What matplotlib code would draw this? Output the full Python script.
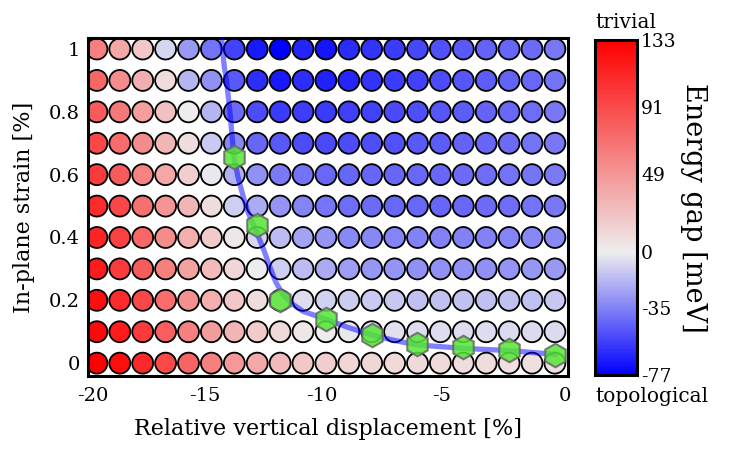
import numpy as np
import matplotlib
matplotlib.use('Agg')
import matplotlib.pyplot as plt
from matplotlib.colors import LinearSegmentedColormap, Normalize

plt.rcParams['font.family'] = 'DejaVu Serif'
plt.rcParams['axes.unicode_minus'] = False

# grid: 21 displacement columns, 11 strain rows
n_cols = 21
strain = [0.0, 0.1, 0.2, 0.3, 0.4, 0.5, 0.6, 0.7, 0.8, 0.9, 1.0]

# energy gap [meV], one list per strain row (bottom to top), columns left to right
gap_rows = [
    [133, 125, 110, 92, 78, 62, 48, 38, 28, 22, 18, 14, 13, 12, 12, 11, 10, 10, 9, 8, 7],
    [128, 118, 100, 80, 62, 46, 32, 20, 12, 5, 1, -2, -3, -4, -5, -5, -5, -5, -6, -6, -6],
    [124, 108, 92, 72, 52, 36, 22, 10, 0, -5, -9, -11, -12, -13, -14, -14, -14, -14, -14, -14, -13],
    [118, 100, 82, 62, 42, 28, 14, 0, -10, -16, -22, -26, -28, -29, -30, -30, -30, -30, -29, -28, -27],
    [112, 96, 76, 55, 36, 20, 4, -8, -16, -24, -29, -32, -33, -34, -35, -35, -35, -35, -34, -33, -32],
    [108, 92, 70, 50, 32, 10, -10, -22, -29, -34, -39, -41, -42, -43, -43, -44, -43, -42, -41, -40, -38],
    [100, 82, 60, 40, 18, -2, -20, -30, -37, -40, -43, -44, -44, -44, -43, -43, -42, -41, -40, -39, -37],
    [92, 72, 55, 32, 10, -12, -32, -44, -48, -52, -53, -52, -51, -50, -48, -47, -45, -44, -42, -40, -38],
    [82, 65, 45, 25, 0, -18, -42, -52, -58, -57, -58, -56, -55, -53, -51, -49, -47, -45, -43, -41, -38],
    [75, 55, 35, 10, -18, -30, -48, -62, -68, -62, -66, -64, -60, -58, -55, -52, -49, -47, -45, -43, -40],
    [62, 40, 22, -8, -27, -40, -55, -68, -77, -65, -70, -63, -60, -58, -54, -50, -48, -45, -44, -42, -38],
]

# x tick labels and where they sit in column-index units
disp_ticks = [-20, -15, -10, -5, 0]
disp_tick_pos = [-0.2, 4.72, 9.83, 15.07, 20.45]

# phase boundary points (column index, strain)
hex_col = [6, 7, 8, 10, 12, 14, 16, 18, 20]
hex_strain = [0.656, 0.44, 0.20, 0.14, 0.088, 0.06, 0.05, 0.041, 0.025]

# fitted boundary curve
line_col = [5.44, 5.55, 5.66, 5.81, 5.93, 6.0, 6.17, 6.39, 6.6, 6.9, 7.26, 7.55, 7.8,
            8.1, 8.5, 9.0, 10.0, 11.0, 12.0, 13.0, 14.0, 16.0, 18.0, 20.0]
line_strain = [1.04, 0.95, 0.90, 0.80, 0.70, 0.65, 0.59, 0.53, 0.48, 0.43, 0.366, 0.307, 0.26,
               0.22, 0.19, 0.165, 0.14, 0.113, 0.09, 0.072, 0.058, 0.047, 0.04, 0.028]

gap_min, gap_max = -77, 133
cbar_ticks = [-77, -35, 0, 49, 91, 133]

cmap = LinearSegmentedColormap.from_list(
    'gap', [(0.0, '#0000ff'), (-gap_min / (gap_max - gap_min), '#eeeeee'), (1.0, '#ff0000')])
norm = Normalize(vmin=gap_min, vmax=gap_max)

fig = plt.figure(figsize=(7.43, 4.58), dpi=100)
ax = fig.add_axes([0.1184, 0.179, 0.646, 0.738])

cols, rows = np.meshgrid(np.arange(n_cols), strain)
sc = ax.scatter(cols.ravel(), rows.ravel(), c=np.array(gap_rows).ravel(), cmap=cmap, norm=norm,
                s=228, edgecolors='black', linewidths=1.3, zorder=2)

ax.plot(line_col, line_strain, color='blue', alpha=0.5, lw=3.8, zorder=3)
ax.plot(hex_col, hex_strain, 'h', color='#55e633', markersize=17, markeredgecolor='#666666',
        markeredgewidth=1.5, alpha=0.85, zorder=4)

ax.set_xlim(-0.39, 20.57)
ax.set_ylim(-0.041, 1.035)
ax.set_xticks(disp_tick_pos)
ax.set_xticklabels([str(t) for t in disp_ticks])
ax.set_yticks([0, 0.2, 0.4, 0.6, 0.8, 1.0])
ax.set_yticklabels(['0', '0.2', '0.4', '0.6', '0.8', '1'])
ax.tick_params(axis='x', length=0, labelsize=14, pad=8)
ax.tick_params(axis='y', length=0, labelsize=14, pad=6)
for sp in ax.spines.values():
    sp.set_linewidth(2.2)
ax.set_xlabel('Relative vertical displacement [%]', fontsize=16, labelpad=9)
ax.set_ylabel('In-plane strain [%]', fontsize=16, labelpad=10)

cax = fig.add_axes([0.8008, 0.181, 0.0565, 0.731])
cb = fig.colorbar(sc, cax=cax, ticks=cbar_ticks)
cb.outline.set_linewidth(2.2)
cb.ax.tick_params(length=0, labelsize=13.5, pad=3)
cb.set_label('Energy gap [meV]', fontsize=19.5, rotation=270, labelpad=22)

fig.text(595 / 743, 1 - 23 / 458, 'trivial', fontsize=14.5, ha='left', va='center')
fig.text(595 / 743, 1 - 397 / 458, 'topological', fontsize=14.5, ha='left', va='center')

fig.savefig('out.png', dpi=100)
